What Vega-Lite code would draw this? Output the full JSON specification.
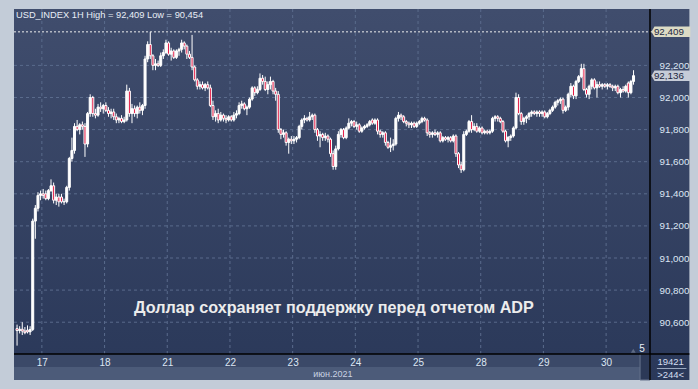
{
  "$schema": "https://vega.github.io/schema/vega-lite/v6.json",
  "width": 686,
  "height": 371,
  "autosize": {"type": "none"},
  "padding": {"left": 9, "top": 9, "right": 3, "bottom": 9},
  "config": {"background": "#c3ccd8", "view": {"stroke": null}},
  "datasets": {
    "candles": [
{"i":0,"o":90.560,"h":90.585,"l":90.454,"c":90.548},
{"i":1,"o":90.548,"h":90.575,"l":90.530,"c":90.556},
{"i":2,"o":90.556,"h":90.600,"l":90.520,"c":90.545},
{"i":3,"o":90.545,"h":90.570,"l":90.525,"c":90.535},
{"i":4,"o":90.550,"h":90.580,"l":90.530,"c":90.540},
{"i":5,"o":90.540,"h":90.575,"l":90.520,"c":90.555},
{"i":6,"o":90.555,"h":91.245,"l":90.545,"c":91.230},
{"i":7,"o":91.230,"h":91.330,"l":91.120,"c":91.310},
{"i":8,"o":91.310,"h":91.410,"l":91.290,"c":91.390},
{"i":9,"o":91.390,"h":91.420,"l":91.360,"c":91.400},
{"i":10,"o":91.400,"h":91.430,"l":91.370,"c":91.390},
{"i":11,"o":91.400,"h":91.420,"l":91.360,"c":91.370},
{"i":12,"o":91.370,"h":91.430,"l":91.360,"c":91.420},
{"i":13,"o":91.420,"h":91.490,"l":91.410,"c":91.450},
{"i":14,"o":91.450,"h":91.470,"l":91.340,"c":91.360},
{"i":15,"o":91.360,"h":91.400,"l":91.330,"c":91.380},
{"i":16,"o":91.380,"h":91.400,"l":91.320,"c":91.350},
{"i":17,"o":91.380,"h":91.400,"l":91.340,"c":91.350},
{"i":18,"o":91.350,"h":91.370,"l":91.330,"c":91.350},
{"i":19,"o":91.350,"h":91.450,"l":91.340,"c":91.440},
{"i":20,"o":91.440,"h":91.630,"l":91.420,"c":91.620},
{"i":21,"o":91.620,"h":91.750,"l":91.600,"c":91.670},
{"i":22,"o":91.670,"h":91.840,"l":91.650,"c":91.820},
{"i":23,"o":91.820,"h":91.860,"l":91.790,"c":91.800},
{"i":24,"o":91.800,"h":91.840,"l":91.770,"c":91.830},
{"i":25,"o":91.830,"h":91.850,"l":91.800,"c":91.820},
{"i":26,"o":91.820,"h":91.840,"l":91.630,"c":91.710},
{"i":27,"o":91.710,"h":91.910,"l":91.690,"c":91.900},
{"i":28,"o":91.900,"h":92.020,"l":91.880,"c":92.000},
{"i":29,"o":92.000,"h":92.010,"l":91.880,"c":91.900},
{"i":30,"o":91.900,"h":91.930,"l":91.870,"c":91.890},
{"i":31,"o":91.890,"h":91.960,"l":91.880,"c":91.940},
{"i":32,"o":91.940,"h":91.970,"l":91.910,"c":91.930},
{"i":33,"o":91.930,"h":91.960,"l":91.900,"c":91.950},
{"i":34,"o":91.950,"h":91.970,"l":91.910,"c":91.920},
{"i":35,"o":91.920,"h":91.940,"l":91.880,"c":91.900},
{"i":36,"o":91.900,"h":91.930,"l":91.870,"c":91.910},
{"i":37,"o":91.910,"h":91.930,"l":91.860,"c":91.880},
{"i":38,"o":91.880,"h":91.900,"l":91.840,"c":91.860},
{"i":39,"o":91.860,"h":91.880,"l":91.840,"c":91.870},
{"i":40,"o":91.870,"h":91.890,"l":91.840,"c":91.850},
{"i":41,"o":91.850,"h":91.880,"l":91.840,"c":91.860},
{"i":42,"o":91.860,"h":92.080,"l":91.850,"c":92.040},
{"i":43,"o":92.040,"h":92.060,"l":91.880,"c":91.900},
{"i":44,"o":91.900,"h":91.960,"l":91.840,"c":91.930},
{"i":45,"o":91.930,"h":91.950,"l":91.880,"c":91.900},
{"i":46,"o":91.900,"h":91.950,"l":91.870,"c":91.940},
{"i":47,"o":91.940,"h":91.970,"l":91.900,"c":91.920},
{"i":48,"o":91.920,"h":91.960,"l":91.890,"c":91.950},
{"i":49,"o":91.950,"h":92.260,"l":91.930,"c":92.240},
{"i":50,"o":92.240,"h":92.350,"l":92.220,"c":92.330},
{"i":51,"o":92.330,"h":92.409,"l":92.240,"c":92.260},
{"i":52,"o":92.260,"h":92.270,"l":92.170,"c":92.200},
{"i":53,"o":92.200,"h":92.240,"l":92.170,"c":92.210},
{"i":54,"o":92.210,"h":92.230,"l":92.190,"c":92.200},
{"i":55,"o":92.200,"h":92.280,"l":92.190,"c":92.260},
{"i":56,"o":92.260,"h":92.300,"l":92.240,"c":92.280},
{"i":57,"o":92.280,"h":92.360,"l":92.270,"c":92.340},
{"i":58,"o":92.340,"h":92.350,"l":92.260,"c":92.270},
{"i":59,"o":92.270,"h":92.310,"l":92.230,"c":92.290},
{"i":60,"o":92.290,"h":92.300,"l":92.240,"c":92.250},
{"i":61,"o":92.250,"h":92.300,"l":92.240,"c":92.290},
{"i":62,"o":92.290,"h":92.310,"l":92.260,"c":92.300},
{"i":63,"o":92.300,"h":92.360,"l":92.280,"c":92.340},
{"i":64,"o":92.340,"h":92.350,"l":92.300,"c":92.320},
{"i":65,"o":92.320,"h":92.330,"l":92.240,"c":92.270},
{"i":66,"o":92.270,"h":92.290,"l":92.240,"c":92.250},
{"i":67,"o":92.250,"h":92.390,"l":92.170,"c":92.190},
{"i":68,"o":92.190,"h":92.200,"l":92.100,"c":92.110},
{"i":69,"o":92.110,"h":92.120,"l":92.050,"c":92.070},
{"i":70,"o":92.070,"h":92.100,"l":92.050,"c":92.080},
{"i":71,"o":92.080,"h":92.100,"l":92.050,"c":92.060},
{"i":72,"o":92.060,"h":92.090,"l":92.040,"c":92.080},
{"i":73,"o":92.080,"h":92.100,"l":92.050,"c":92.060},
{"i":74,"o":92.060,"h":92.080,"l":91.940,"c":91.950},
{"i":75,"o":91.950,"h":91.980,"l":91.860,"c":91.880},
{"i":76,"o":91.880,"h":91.920,"l":91.850,"c":91.900},
{"i":77,"o":91.900,"h":91.930,"l":91.840,"c":91.860},
{"i":78,"o":91.860,"h":91.910,"l":91.850,"c":91.890},
{"i":79,"o":91.890,"h":91.900,"l":91.850,"c":91.870},
{"i":80,"o":91.870,"h":91.890,"l":91.840,"c":91.860},
{"i":81,"o":91.860,"h":91.890,"l":91.850,"c":91.880},
{"i":82,"o":91.880,"h":91.890,"l":91.850,"c":91.860},
{"i":83,"o":91.860,"h":91.910,"l":91.850,"c":91.890},
{"i":84,"o":91.890,"h":91.920,"l":91.870,"c":91.900},
{"i":85,"o":91.900,"h":91.970,"l":91.890,"c":91.950},
{"i":86,"o":91.950,"h":91.980,"l":91.930,"c":91.960},
{"i":87,"o":91.960,"h":91.970,"l":91.920,"c":91.930},
{"i":88,"o":91.930,"h":91.950,"l":91.890,"c":91.940},
{"i":89,"o":91.940,"h":92.000,"l":91.930,"c":91.990},
{"i":90,"o":91.990,"h":92.070,"l":91.980,"c":92.060},
{"i":91,"o":92.060,"h":92.070,"l":92.010,"c":92.030},
{"i":92,"o":92.030,"h":92.070,"l":92.020,"c":92.050},
{"i":93,"o":92.050,"h":92.150,"l":92.040,"c":92.120},
{"i":94,"o":92.120,"h":92.140,"l":92.080,"c":92.100},
{"i":95,"o":92.100,"h":92.130,"l":92.040,"c":92.050},
{"i":96,"o":92.050,"h":92.100,"l":92.020,"c":92.080},
{"i":97,"o":92.080,"h":92.130,"l":92.050,"c":92.100},
{"i":98,"o":92.100,"h":92.110,"l":92.020,"c":92.040},
{"i":99,"o":92.040,"h":92.060,"l":91.980,"c":92.020},
{"i":100,"o":92.020,"h":92.040,"l":91.780,"c":91.800},
{"i":101,"o":91.800,"h":91.810,"l":91.740,"c":91.770},
{"i":102,"o":91.770,"h":91.800,"l":91.750,"c":91.780},
{"i":103,"o":91.780,"h":91.790,"l":91.700,"c":91.720},
{"i":104,"o":91.720,"h":91.750,"l":91.650,"c":91.740},
{"i":105,"o":91.740,"h":91.760,"l":91.710,"c":91.730},
{"i":106,"o":91.730,"h":91.760,"l":91.710,"c":91.740},
{"i":107,"o":91.740,"h":91.760,"l":91.720,"c":91.750},
{"i":108,"o":91.750,"h":91.830,"l":91.740,"c":91.820},
{"i":109,"o":91.820,"h":91.870,"l":91.800,"c":91.860},
{"i":110,"o":91.860,"h":91.890,"l":91.840,"c":91.870},
{"i":111,"o":91.870,"h":91.880,"l":91.850,"c":91.860},
{"i":112,"o":91.860,"h":91.910,"l":91.850,"c":91.880},
{"i":113,"o":91.880,"h":91.900,"l":91.860,"c":91.890},
{"i":114,"o":91.890,"h":91.900,"l":91.780,"c":91.800},
{"i":115,"o":91.800,"h":91.810,"l":91.730,"c":91.760},
{"i":116,"o":91.760,"h":91.790,"l":91.690,"c":91.770},
{"i":117,"o":91.770,"h":91.780,"l":91.730,"c":91.750},
{"i":118,"o":91.750,"h":91.780,"l":91.730,"c":91.760},
{"i":119,"o":91.760,"h":91.770,"l":91.720,"c":91.740},
{"i":120,"o":91.740,"h":91.750,"l":91.630,"c":91.650},
{"i":121,"o":91.650,"h":91.670,"l":91.550,"c":91.570},
{"i":122,"o":91.570,"h":91.700,"l":91.550,"c":91.680},
{"i":123,"o":91.680,"h":91.790,"l":91.670,"c":91.770},
{"i":124,"o":91.770,"h":91.810,"l":91.750,"c":91.800},
{"i":125,"o":91.800,"h":91.810,"l":91.740,"c":91.750},
{"i":126,"o":91.750,"h":91.820,"l":91.740,"c":91.810},
{"i":127,"o":91.810,"h":91.870,"l":91.800,"c":91.840},
{"i":128,"o":91.840,"h":91.860,"l":91.820,"c":91.850},
{"i":129,"o":91.850,"h":91.860,"l":91.810,"c":91.820},
{"i":130,"o":91.820,"h":91.850,"l":91.800,"c":91.830},
{"i":131,"o":91.830,"h":91.840,"l":91.780,"c":91.790},
{"i":132,"o":91.790,"h":91.820,"l":91.780,"c":91.810},
{"i":133,"o":91.810,"h":91.830,"l":91.800,"c":91.820},
{"i":134,"o":91.820,"h":91.840,"l":91.810,"c":91.830},
{"i":135,"o":91.830,"h":91.860,"l":91.820,"c":91.850},
{"i":136,"o":91.860,"h":91.870,"l":91.830,"c":91.840},
{"i":137,"o":91.840,"h":91.870,"l":91.830,"c":91.860},
{"i":138,"o":91.860,"h":91.870,"l":91.770,"c":91.790},
{"i":139,"o":91.790,"h":91.800,"l":91.750,"c":91.770},
{"i":140,"o":91.770,"h":91.790,"l":91.750,"c":91.780},
{"i":141,"o":91.780,"h":91.790,"l":91.700,"c":91.720},
{"i":142,"o":91.720,"h":91.730,"l":91.680,"c":91.690},
{"i":143,"o":91.690,"h":91.750,"l":91.660,"c":91.700},
{"i":144,"o":91.700,"h":91.740,"l":91.670,"c":91.710},
{"i":145,"o":91.710,"h":91.880,"l":91.700,"c":91.870},
{"i":146,"o":91.870,"h":91.910,"l":91.850,"c":91.890},
{"i":147,"o":91.890,"h":91.900,"l":91.860,"c":91.880},
{"i":148,"o":91.880,"h":91.890,"l":91.840,"c":91.850},
{"i":149,"o":91.850,"h":91.860,"l":91.820,"c":91.840},
{"i":150,"o":91.840,"h":91.850,"l":91.810,"c":91.830},
{"i":151,"o":91.830,"h":91.850,"l":91.810,"c":91.840},
{"i":152,"o":91.840,"h":91.850,"l":91.810,"c":91.820},
{"i":153,"o":91.820,"h":91.850,"l":91.810,"c":91.840},
{"i":154,"o":91.840,"h":91.860,"l":91.830,"c":91.850},
{"i":155,"o":91.850,"h":91.880,"l":91.840,"c":91.870},
{"i":156,"o":91.870,"h":91.880,"l":91.850,"c":91.860},
{"i":157,"o":91.860,"h":91.870,"l":91.760,"c":91.780},
{"i":158,"o":91.780,"h":91.790,"l":91.750,"c":91.770},
{"i":159,"o":91.770,"h":91.790,"l":91.750,"c":91.780},
{"i":160,"o":91.780,"h":91.800,"l":91.760,"c":91.770},
{"i":161,"o":91.770,"h":91.790,"l":91.750,"c":91.780},
{"i":162,"o":91.780,"h":91.790,"l":91.720,"c":91.730},
{"i":163,"o":91.730,"h":91.760,"l":91.720,"c":91.750},
{"i":164,"o":91.750,"h":91.760,"l":91.730,"c":91.740},
{"i":165,"o":91.740,"h":91.760,"l":91.720,"c":91.750},
{"i":166,"o":91.750,"h":91.760,"l":91.720,"c":91.730},
{"i":167,"o":91.730,"h":91.770,"l":91.720,"c":91.760},
{"i":168,"o":91.760,"h":91.770,"l":91.630,"c":91.650},
{"i":169,"o":91.650,"h":91.660,"l":91.560,"c":91.580},
{"i":170,"o":91.580,"h":91.600,"l":91.530,"c":91.550},
{"i":171,"o":91.550,"h":91.790,"l":91.540,"c":91.770},
{"i":172,"o":91.770,"h":91.800,"l":91.760,"c":91.790},
{"i":173,"o":91.790,"h":91.860,"l":91.780,"c":91.850},
{"i":174,"o":91.850,"h":91.890,"l":91.780,"c":91.800},
{"i":175,"o":91.800,"h":91.840,"l":91.790,"c":91.820},
{"i":176,"o":91.820,"h":91.840,"l":91.780,"c":91.790},
{"i":177,"o":91.790,"h":91.820,"l":91.780,"c":91.810},
{"i":178,"o":91.810,"h":91.820,"l":91.770,"c":91.780},
{"i":179,"o":91.780,"h":91.800,"l":91.770,"c":91.790},
{"i":180,"o":91.790,"h":91.800,"l":91.770,"c":91.780},
{"i":181,"o":91.780,"h":91.800,"l":91.770,"c":91.790},
{"i":182,"o":91.790,"h":91.880,"l":91.780,"c":91.870},
{"i":183,"o":91.870,"h":91.890,"l":91.850,"c":91.880},
{"i":184,"o":91.880,"h":91.890,"l":91.850,"c":91.870},
{"i":185,"o":91.870,"h":91.880,"l":91.840,"c":91.850},
{"i":186,"o":91.850,"h":91.860,"l":91.780,"c":91.790},
{"i":187,"o":91.790,"h":91.800,"l":91.720,"c":91.730},
{"i":188,"o":91.730,"h":91.760,"l":91.690,"c":91.750},
{"i":189,"o":91.750,"h":91.770,"l":91.730,"c":91.760},
{"i":190,"o":91.760,"h":91.820,"l":91.750,"c":91.810},
{"i":191,"o":91.810,"h":92.030,"l":91.800,"c":92.000},
{"i":192,"o":92.000,"h":92.020,"l":91.890,"c":91.900},
{"i":193,"o":91.900,"h":91.910,"l":91.830,"c":91.850},
{"i":194,"o":91.850,"h":91.880,"l":91.830,"c":91.870},
{"i":195,"o":91.870,"h":91.890,"l":91.840,"c":91.880},
{"i":196,"o":91.880,"h":91.910,"l":91.860,"c":91.900},
{"i":197,"o":91.900,"h":91.920,"l":91.880,"c":91.910},
{"i":198,"o":91.910,"h":91.920,"l":91.890,"c":91.900},
{"i":199,"o":91.900,"h":91.920,"l":91.880,"c":91.910},
{"i":200,"o":91.910,"h":91.920,"l":91.880,"c":91.900},
{"i":201,"o":91.900,"h":91.920,"l":91.880,"c":91.910},
{"i":202,"o":91.910,"h":91.920,"l":91.870,"c":91.880},
{"i":203,"o":91.880,"h":91.910,"l":91.870,"c":91.900},
{"i":204,"o":91.900,"h":91.930,"l":91.890,"c":91.920},
{"i":205,"o":91.920,"h":91.950,"l":91.910,"c":91.940},
{"i":206,"o":91.940,"h":91.980,"l":91.930,"c":91.970},
{"i":207,"o":91.970,"h":91.990,"l":91.950,"c":91.980},
{"i":208,"o":91.980,"h":92.000,"l":91.960,"c":91.990},
{"i":209,"o":91.990,"h":92.000,"l":91.900,"c":91.920},
{"i":210,"o":91.920,"h":91.950,"l":91.910,"c":91.940},
{"i":211,"o":91.940,"h":92.030,"l":91.920,"c":92.020},
{"i":212,"o":92.020,"h":92.090,"l":92.000,"c":92.070},
{"i":213,"o":92.070,"h":92.080,"l":91.990,"c":92.010},
{"i":214,"o":92.010,"h":92.110,"l":91.990,"c":92.100},
{"i":215,"o":92.100,"h":92.140,"l":92.090,"c":92.130},
{"i":216,"o":92.130,"h":92.210,"l":92.120,"c":92.180},
{"i":217,"o":92.180,"h":92.210,"l":92.040,"c":92.050},
{"i":218,"o":92.050,"h":92.060,"l":92.000,"c":92.020},
{"i":219,"o":92.020,"h":92.080,"l":91.990,"c":92.070},
{"i":220,"o":92.070,"h":92.120,"l":92.050,"c":92.110},
{"i":221,"o":92.110,"h":92.120,"l":92.050,"c":92.060},
{"i":222,"o":92.060,"h":92.100,"l":92.000,"c":92.080},
{"i":223,"o":92.080,"h":92.100,"l":92.060,"c":92.070},
{"i":224,"o":92.070,"h":92.090,"l":92.050,"c":92.080},
{"i":225,"o":92.080,"h":92.090,"l":92.060,"c":92.070},
{"i":226,"o":92.070,"h":92.090,"l":92.050,"c":92.080},
{"i":227,"o":92.080,"h":92.090,"l":92.060,"c":92.070},
{"i":228,"o":92.070,"h":92.080,"l":92.040,"c":92.060},
{"i":229,"o":92.060,"h":92.080,"l":92.040,"c":92.070},
{"i":230,"o":92.070,"h":92.080,"l":92.020,"c":92.030},
{"i":231,"o":92.030,"h":92.060,"l":92.000,"c":92.050},
{"i":232,"o":92.050,"h":92.070,"l":92.030,"c":92.040},
{"i":233,"o":92.040,"h":92.080,"l":92.030,"c":92.070},
{"i":234,"o":92.090,"h":92.100,"l":92.000,"c":92.030},
{"i":235,"o":92.030,"h":92.110,"l":92.020,"c":92.100},
{"i":236,"o":92.100,"h":92.170,"l":92.080,"c":92.136}
    ],
    "days": [{"k":9.5},{"k":33.5},{"k":57.5},{"k":81.5},{"k":105.5},{"k":129.5},{"k":153.5},{"k":177.5},{"k":201.5},{"k":225.5}],
    "levels": [{"v":90.6},{"v":90.8},{"v":91.0},{"v":91.2},{"v":91.4},{"v":91.6},{"v":91.8},{"v":92.0},{"v":92.2}],
    "one": [{}]
  },
  "layer": [
    {
      "data": {"name": "one"},
      "mark": {"type": "rect", "color": {"gradient": "linear", "x1": 0, "y1": 0, "x2": 0, "y2": 1, "stops": [{"offset": 0, "color": "#404d6d"}, {"offset": 1, "color": "#2a3859"}]}},
      "encoding": {
        "x": {"datum": -1.17, "type": "quantitative",
              "scale": {"domain": [-1.17, 242.3], "range": [0, 646], "nice": false, "zero": false},
              "axis": {"orient": "bottom", "offset": -26, "values": [9.5,33.5,57.5,81.5,105.5,129.5,153.5,177.5,201.5,225.5],
                       "labelExpr": "['17','18','21','22','23','24','25','28','29','30'][round((datum.value-9.5)/24)]",
                       "domain": false, "ticks": false, "grid": false, "labelPadding": 3, "labelFontSize": 10,
                       "labelFont": "Liberation Sans", "labelColor": "#dde6f3", "labelFlush": false, "labelOverlap": false,
                       "title": null, "zindex": 2}},
        "x2": {"datum": 257.38},
        "y": {"datum": 92.5514, "type": "quantitative",
              "scale": {"domain": [90.4019, 92.5514], "range": [345, 0], "nice": false, "zero": false},
              "axis": {"orient": "right", "offset": -40, "values": [90.6,90.8,91.0,91.2,91.4,91.6,91.8,92.0,92.2],
                       "labelExpr": "replace(format(datum.value, '.3f'), '.', ',')",
                       "domain": false, "ticks": false, "grid": false, "labelPadding": 4, "labelAlign": "left",
                       "labelBaseline": "middle", "labelFontSize": 9.8, "labelFont": "Liberation Sans",
                       "labelColor": "#dde6f3", "labelFlush": false, "labelOverlap": false, "title": null, "zindex": 2}},
        "y2": {"datum": 90.2399}
      }
    },
    {
      "data": {"name": "one"},
      "mark": {"type": "rect", "color": "#3b4968"},
      "encoding": {"x": {"datum": -1.17, "type": "quantitative"}, "x2": {"datum": 242.3},
                   "y": {"datum": 90.4019, "type": "quantitative"}, "y2": {"datum": 90.321}}
    },
    {
      "data": {"name": "one"},
      "mark": {"type": "rect", "color": "#4c5b79"},
      "encoding": {"x": {"datum": -1.17, "type": "quantitative"}, "x2": {"datum": 242.3},
                   "y": {"datum": 90.321, "type": "quantitative"}, "y2": {"datum": 90.2399}}
    },
    {
      "data": {"name": "one"},
      "mark": {"type": "rect", "color": "#2c3957", "stroke": "#66738c", "strokeWidth": 1},
      "encoding": {"x": {"datum": 238.5, "type": "quantitative"}, "x2": {"datum": 242.3},
                   "y": {"datum": 90.4019, "type": "quantitative"}, "y2": {"datum": 90.2399}}
    },
    {
      "data": {"name": "days"},
      "mark": {"type": "rule", "color": "#5a6b8c", "strokeDash": [3, 3], "strokeWidth": 1},
      "encoding": {"x": {"field": "k", "type": "quantitative"},
                   "y": {"datum": 92.5514, "type": "quantitative"}, "y2": {"datum": 90.4019}}
    },
    {
      "data": {"name": "levels"},
      "mark": {"type": "rule", "color": "#5a6b8c", "strokeDash": [3, 3], "strokeWidth": 1},
      "encoding": {"y": {"field": "v", "type": "quantitative"},
                   "x": {"datum": -1.17, "type": "quantitative"}, "x2": {"datum": 242.3}}
    },
    {
      "data": {"name": "one"},
      "mark": {"type": "text", "text": "Доллар сохраняет поддержку перед отчетом ADP", "font": "Liberation Sans",
               "fontSize": 16.2, "fontWeight": "bold", "color": "#ececec", "align": "center", "baseline": "middle"},
      "encoding": {"x": {"datum": 121.3, "type": "quantitative"}, "y": {"datum": 90.6885, "type": "quantitative"}}
    },
    {
      "data": {"name": "one"},
      "mark": {"type": "text", "text": "USD_INDEX 1H High = 92,409 Low = 90,454", "font": "Liberation Sans",
               "fontSize": 9.3, "color": "#e8eef7", "align": "left", "baseline": "middle"},
      "encoding": {"x": {"datum": -0.41, "type": "quantitative"}, "y": {"datum": 92.514, "type": "quantitative"}}
    },
    {
      "data": {"name": "candles"},
      "mark": {"type": "rule", "color": "#ffffff", "strokeWidth": 1},
      "encoding": {"x": {"field": "i", "type": "quantitative"},
                   "y": {"field": "l", "type": "quantitative"}, "y2": {"field": "h"}}
    },
    {
      "data": {"name": "candles"},
      "mark": {"type": "bar", "width": 2, "stroke": "#ffffff", "strokeWidth": 1},
      "encoding": {"x": {"field": "i", "type": "quantitative"},
                   "y": {"field": "o", "type": "quantitative"}, "y2": {"field": "c"},
                   "fill": {"condition": {"test": "datum.c < datum.o", "value": "#e3123e"}, "value": "#ffffff"}}
    },
    {
      "data": {"name": "one"},
      "mark": {"type": "rule", "color": "#eeeeee", "strokeDash": [2, 2], "strokeWidth": 1},
      "encoding": {"y": {"datum": 92.409, "type": "quantitative"},
                   "x": {"datum": -1.17, "type": "quantitative"}, "x2": {"datum": 243.8}}
    },
    {
      "data": {"name": "one"},
      "mark": {"type": "rule", "color": "#000000", "strokeWidth": 1.5},
      "encoding": {"x": {"datum": 242.3, "type": "quantitative"},
                   "y": {"datum": 92.5514, "type": "quantitative"}, "y2": {"datum": 90.2399}}
    },
    {
      "data": {"name": "one"},
      "mark": {"type": "rule", "color": "#000000", "strokeWidth": 1.5},
      "encoding": {"y": {"datum": 90.4019, "type": "quantitative"},
                   "x": {"datum": -1.17, "type": "quantitative"}, "x2": {"datum": 257.38}}
    },
    {
      "data": {"values": [{"v": 92.409, "t": "92,409"}]},
      "mark": {"type": "point", "filled": true, "opacity": 1, "color": "#dcdbc5", "size": 1521,
               "shape": "M-1,0L-0.84,-0.27L1,-0.27L1,0.27L-0.84,0.27Z"},
      "encoding": {"x": {"datum": 250.3, "type": "quantitative"}, "y": {"field": "v", "type": "quantitative"}}
    },
    {
      "data": {"values": [{"v": 92.136, "t": "92,136"}]},
      "mark": {"type": "point", "filled": true, "opacity": 1, "color": "#c6ccd8", "size": 1521,
               "shape": "M-1,0L-0.84,-0.27L1,-0.27L1,0.27L-0.84,0.27Z"},
      "encoding": {"x": {"datum": 250.3, "type": "quantitative"}, "y": {"field": "v", "type": "quantitative"}}
    },
    {
      "data": {"values": [{"v": 92.409, "t": "92,409"}, {"v": 92.136, "t": "92,136"}]},
      "mark": {"type": "text", "font": "Liberation Sans", "fontSize": 9.8, "color": "#1d2741", "align": "left", "baseline": "middle"},
      "encoding": {"x": {"datum": 243.8, "type": "quantitative"}, "y": {"field": "v", "type": "quantitative"}, "text": {"field": "t"}}
    },
    {
      "data": {"name": "one"},
      "mark": {"type": "text", "text": "июн.2021", "font": "Liberation Sans", "fontSize": 9, "color": "#c8d2e2", "align": "center", "baseline": "middle"},
      "encoding": {"x": {"datum": 120.94, "type": "quantitative"}, "y": {"datum": 90.2773, "type": "quantitative"}}
    },
    {
      "data": {"name": "one"},
      "mark": {"type": "text", "text": "19421", "font": "Liberation Sans", "fontSize": 9.5, "color": "#d4def0", "align": "center", "baseline": "middle"},
      "encoding": {"x": {"datum": 250.2, "type": "quantitative"}, "y": {"datum": 90.352, "type": "quantitative"}}
    },
    {
      "data": {"name": "one"},
      "mark": {"type": "text", "text": ">244<", "font": "Liberation Sans", "fontSize": 9.5, "color": "#d4def0", "align": "center", "baseline": "middle"},
      "encoding": {"x": {"datum": 250.2, "type": "quantitative"}, "y": {"datum": 90.271, "type": "quantitative"}}
    },
    {
      "data": {"name": "one"},
      "mark": {"type": "rule", "color": "#9aa8bf", "strokeWidth": 1},
      "encoding": {"x": {"datum": 244.94, "type": "quantitative"}, "x2": {"datum": 256.24},
                   "y": {"datum": 90.3115, "type": "quantitative"}}
    },
    {
      "data": {"name": "one"},
      "mark": {"type": "text", "text": "5", "font": "Liberation Sans", "fontSize": 10, "color": "#e8eef7", "align": "center", "baseline": "middle"},
      "encoding": {"x": {"datum": 239.28, "type": "quantitative"}, "y": {"datum": 90.433, "type": "quantitative"}}
    },
    {
      "data": {"name": "one"},
      "mark": {"type": "point", "shape": "triangle-up", "filled": true, "opacity": 1, "color": "#5d6a84", "size": 22},
      "encoding": {"x": {"datum": 235.9, "type": "quantitative"}, "y": {"datum": 90.422, "type": "quantitative"}}
    }
  ]
}
